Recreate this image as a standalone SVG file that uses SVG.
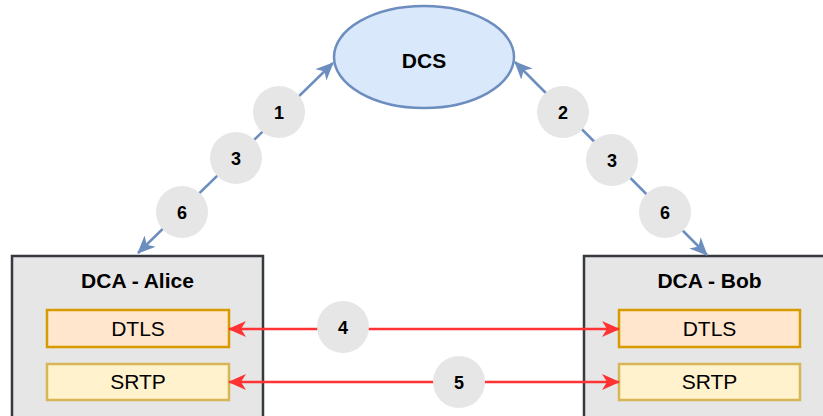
<svg xmlns="http://www.w3.org/2000/svg" width="823" height="416" viewBox="0 0 823 416">
<style>
text{font-family:"Liberation Sans",Arial,Helvetica,sans-serif;fill:#000;text-anchor:middle}
.t{font-size:21px;font-weight:bold}
.l{font-size:21px}
.n{font-size:18px;font-weight:bold}
.badge{fill:#e6e6e6}
.box{fill:#e6e6e6;stroke:#36393d;stroke-width:2.5}
.dtls{fill:#ffe6cc;stroke:#d79b00;stroke-width:2.5}
.srtp{fill:#fff2cc;stroke:#d6b656;stroke-width:2.5}
.blue{stroke:#6c8ebf;stroke-width:2.5;fill:none;marker-start:url(#ab);marker-end:url(#ab)}
.red{stroke:#ff3333;stroke-width:2.5;fill:none;marker-start:url(#ar);marker-end:url(#ar)}
</style>
<defs>
<marker id="ab" viewBox="0 0 18 18" markerWidth="18" markerHeight="18" markerUnits="userSpaceOnUse" refX="17" refY="9" orient="auto-start-reverse"><path d="M0,1 L18,9 L0,17 L5,9 z" fill="#6c8ebf"/></marker>
<marker id="ar" viewBox="0 0 18 18" markerWidth="18" markerHeight="18" markerUnits="userSpaceOnUse" refX="17" refY="9" orient="auto-start-reverse"><path d="M0,1 L18,9 L0,17 L5,9 z" fill="#ff3333"/></marker>
</defs>
<g id="dcs">
<ellipse cx="424" cy="57" rx="90" ry="51" fill="#dae8fc" stroke="#6c8ebf" stroke-width="2.5"/>
<text class="t" x="424" y="68">DCS</text>
</g>
<g id="alice">
<rect class="box" x="12" y="256" width="251" height="175"/>
<text class="t" x="137.5" y="288">DCA - Alice</text>
<g id="alice-dtls"><rect class="dtls" x="47" y="310" width="182" height="37"/><text class="l" x="138" y="336">DTLS</text></g>
<g id="alice-srtp"><rect class="srtp" x="47" y="364" width="182" height="36"/><text class="l" x="138" y="389">SRTP</text></g>
</g>
<g id="bob">
<rect class="box" x="584" y="256" width="251" height="175"/>
<text class="t" x="709.5" y="288">DCA - Bob</text>
<g id="bob-dtls"><rect class="dtls" x="619" y="310" width="181" height="37"/><text class="l" x="709.5" y="336">DTLS</text></g>
<g id="bob-srtp"><rect class="srtp" x="619" y="364" width="181" height="36"/><text class="l" x="709.5" y="389">SRTP</text></g>
</g>
<g id="connectors">
<line class="blue" x1="138" y1="253" x2="333" y2="63"/>
<line class="blue" x1="707" y1="255" x2="515" y2="62"/>
<line class="red" x1="229" y1="329" x2="619" y2="329"/>
<line class="red" x1="229" y1="382" x2="619" y2="382"/>
</g>
<g id="labels">
<circle class="badge" cx="279" cy="112" r="26"/><text class="n" x="279" y="119">1</text>
<circle class="badge" cx="236" cy="158" r="26"/><text class="n" x="236" y="165">3</text>
<circle class="badge" cx="182" cy="212" r="26"/><text class="n" x="182" y="219">6</text>
<circle class="badge" cx="563" cy="112" r="26"/><text class="n" x="563" y="119">2</text>
<circle class="badge" cx="612" cy="160" r="26"/><text class="n" x="612" y="167">3</text>
<circle class="badge" cx="665" cy="212" r="26"/><text class="n" x="665" y="219">6</text>
<circle class="badge" cx="343" cy="327" r="26"/><text class="n" x="343" y="334">4</text>
<circle class="badge" cx="459" cy="382" r="26"/><text class="n" x="459" y="389">5</text>
</g>
</svg>
